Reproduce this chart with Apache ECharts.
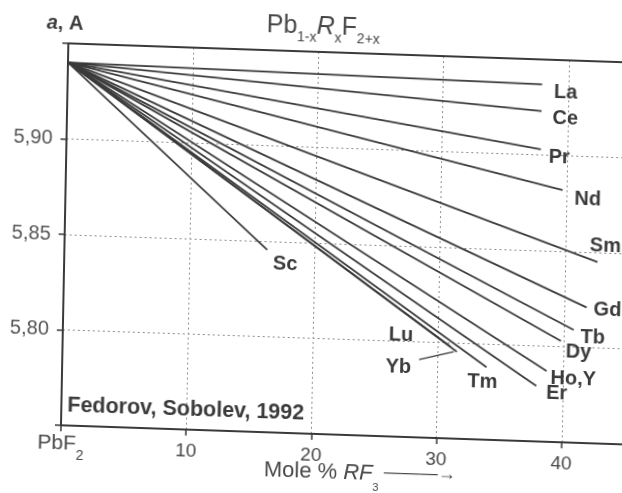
<!DOCTYPE html>
<html>
<head>
<meta charset="utf-8">
<script src="https://cdn.jsdelivr.net/npm/echarts@6/dist/echarts.min.js"></script>
<style>
  html, body { margin: 0; padding: 0; background: #ffffff; overflow: hidden; width: 622px; height: 493px; }
  #page { position: relative; width: 622px; height: 493px; overflow: hidden; background: #ffffff; }
  /* the printed figure sits slightly skewed on its page */
  #chart {
    position: absolute; left: 0; top: 0;
    width: 640px; height: 500px;
    transform-origin: 0 0;
    transform: matrix(1, 0.034, -0.0193, 1, 5.3, -5.8);
  }
</style>
</head>
<body>
<div id="page"><div id="chart"></div></div>
<script>
// Lattice parameter a (Å) of Pb(1-x)R(x)F(2+x) solid solutions vs. mole % RF3.
// Every line starts at pure PbF2 and runs to its solubility limit.
const origin = [0, 5.940];
const elements = ['La', 'Ce', 'Pr', 'Nd', 'Sm', 'Gd', 'Tb', 'Dy', 'Ho,Y', 'Er', 'Tm', 'Yb', 'Lu', 'Sc'];
const endMole    = [37.9, 37.9, 37.9, 39.7, 42.6, 41.8, 40.8, 39.8, 38.7, 37.9, 33.9, 31.5, 31.0, 16.2];
const endLattice = [5.937, 5.923, 5.903, 5.882, 5.845, 5.821, 5.809, 5.803, 5.787, 5.779, 5.788, 5.7955, 5.798, 5.8455];

const xTickValues = [0, 10, 20, 30, 40];
const yTickValues = [5.80, 5.85, 5.90];
const yTickLabels = ['5,80', '5,85', '5,90'];

// label placement next to each line end, in pixels
const labelOffset = {
  'La': [12, 8], 'Ce': [11, 7], 'Pr': [8, 8], 'Nd': [12, 9],
  'Sm': [-8, -16], 'Gd': [7, 2], 'Tb': [7, 7], 'Dy': [5, 11],
  'Ho,Y': [4, 7], 'Er': [10, 7], 'Tm': [-19, 15], 'Yb': [-71, 17],
  'Lu': [-62, -10], 'Sc': [6, 14]
};

const FONT = '"Liberation Sans", Arial, sans-serif';
const INK = '#3a3a3a';
const TEXT = '#474747';

const series = elements.map((name, i) => {
  const s = {
    name: name,
    type: 'line',
    symbol: 'none',
    silent: true,
    animation: false,
    lineStyle: { color: INK, width: 1.8 },
    data: [origin, [endMole[i], endLattice[i]]],
    endLabel: {
      show: true,
      formatter: name,
      distance: 0,
      align: 'left',
      verticalAlign: 'middle',
      offset: labelOffset[name],
      color: '#3b3b3b',
      fontFamily: FONT,
      fontWeight: 'bold',
      fontSize: 20
    }
  };
  if (name === 'Yb') {
    // pointer from the Yb label to the end of its line
    const ex = endMole[i], ey = endLattice[i];
    s.markLine = {
      silent: true,
      symbol: ['none', 'none'],
      label: { show: false },
      lineStyle: { color: INK, width: 1.4, type: 'solid' },
      data: [[{ coord: [ex - 3.0, ey - 0.0047] }, { coord: [ex - 0.25, ey] }]]
    };
  }
  return s;
});

const chart = echarts.init(document.getElementById('chart'), null, { renderer: 'canvas' });

chart.setOption({
  backgroundColor: '#ffffff',
  animation: false,
  title: [
    {
      text: '{n|Pb}{s|1-x}{i|R}{s|x}{n|F}{s|2+x}',
      left: 257, top: 4.5,
      textStyle: {
        rich: {
          n: { fontSize: 25, lineHeight: 28, verticalAlign: 'top', fontWeight: 'normal', color: TEXT, fontFamily: FONT },
          i: { fontSize: 25, lineHeight: 28, verticalAlign: 'top', fontWeight: 'normal', fontStyle: 'italic', color: TEXT, fontFamily: FONT },
          s: { fontSize: 14, lineHeight: 14, padding: [17, 0, 0, 0], verticalAlign: 'top', fontWeight: 'normal', color: TEXT, fontFamily: FONT }
        }
      }
    },
    {
      text: '{i|a}{n|, A}',
      left: 37, top: 11.5,
      textStyle: {
        rich: {
          i: { fontSize: 20, lineHeight: 22, fontStyle: 'italic', fontWeight: 'bold', color: '#3b3b3b', fontFamily: FONT },
          n: { fontSize: 20, lineHeight: 22, fontWeight: 'bold', color: '#3b3b3b', fontFamily: FONT }
        }
      }
    },
    {
      text: 'Fedorov, Sobolev, 1992',
      left: 65, top: 393,
      textStyle: { fontSize: 21.5, lineHeight: 22, fontWeight: 'bold', color: '#3b3b3b', fontFamily: FONT }
    }
  ],
  grid: { left: 64, top: 47, width: 563.4, height: 382, containLabel: false, outerBoundsMode: 'none' },
  xAxis: [
    {
      type: 'value',
      min: 0, max: 45, interval: 10,
      position: 'bottom',
      name: '{n|Mole % }{i|RF}{s|3}{a| \u2014\u2014\u2014\u2192}',
      nameLocation: 'middle',
      nameGap: 27,
      nameMoveOverlap: false,
      nameTextStyle: {
        padding: [0, 0, 0, 36],
        rich: {
          n: { fontSize: 22, lineHeight: 24, verticalAlign: 'top', color: TEXT, fontFamily: FONT },
          i: { fontSize: 22, lineHeight: 24, verticalAlign: 'top', fontStyle: 'italic', color: TEXT, fontFamily: FONT },
          s: { fontSize: 11, lineHeight: 11, padding: [19, 0, 0, 0], verticalAlign: 'top', color: TEXT, fontFamily: FONT },
          a: { fontSize: 18, lineHeight: 24, verticalAlign: 'top', color: TEXT, fontFamily: FONT }
        }
      },
      axisLine: { show: true, onZero: false, lineStyle: { color: INK, width: 2 } },
      axisTick: { show: true, length: 6, lineStyle: { color: INK, width: 1.5 } },
      axisLabel: {
        margin: 8,
        showMaxLabel: false,
        formatter: (v) => {
          if (v === xTickValues[0]) return '{p|PbF}{q|2}';
          return xTickValues.indexOf(v) >= 0 ? '{d|' + v + '}' : '';
        },
        rich: {
          p: { fontSize: 21, lineHeight: 22, verticalAlign: 'top', color: TEXT, fontFamily: FONT },
          q: { fontSize: 14, lineHeight: 14, padding: [15, 0, 0, 0], verticalAlign: 'top', color: TEXT, fontFamily: FONT },
          d: { fontSize: 19, lineHeight: 20, padding: [4, 0, 0, 0], verticalAlign: 'top', color: TEXT, fontFamily: FONT }
        }
      },
      splitLine: { show: true, lineStyle: { color: '#8c8c8c', width: 1, type: [2, 3] } }
    },
    {
      type: 'value',
      min: 0, max: 45,
      position: 'top',
      axisLine: { show: true, onZero: false, lineStyle: { color: INK, width: 2 } },
      axisTick: { show: false },
      axisLabel: { show: false },
      splitLine: { show: false }
    }
  ],
  yAxis: {
    type: 'value',
    min: 5.75, max: 5.95, interval: 0.05,
    axisLine: { show: true, onZero: false, lineStyle: { color: INK, width: 2 } },
    axisTick: { show: true, length: 6, lineStyle: { color: INK, width: 1.5 } },
    axisLabel: {
      margin: 14,
      color: '#555555',
      fontFamily: FONT,
      fontSize: 20,
      formatter: (v) => {
        const k = yTickValues.findIndex(t => Math.abs(t - v) < 1e-6);
        return k >= 0 ? yTickLabels[k] : '';
      }
    },
    splitLine: { show: true, lineStyle: { color: '#8c8c8c', width: 1, type: [2, 3] } }
  },
  series: series
});
</script>
</body>
</html>
